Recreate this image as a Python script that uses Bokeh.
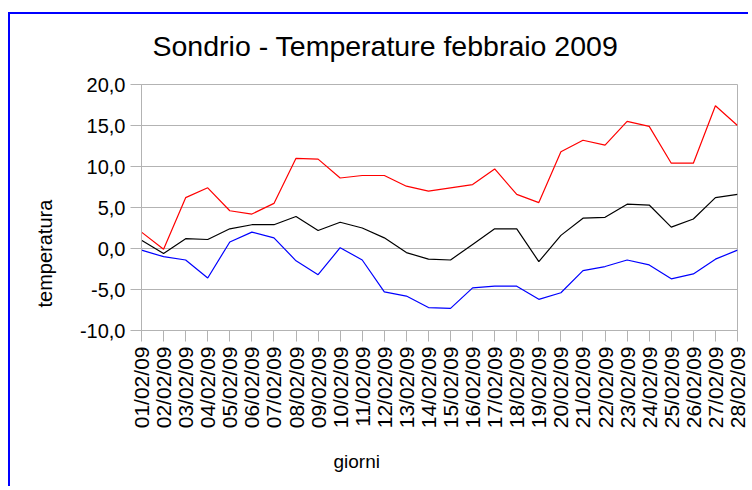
import math
from bokeh.plotting import figure
from bokeh.models import Range1d, FixedTicker, ColumnDataSource, Title
from bokeh.embed import file_html
from bokeh.resources import INLINE

days = ["01/02/09", "02/02/09", "03/02/09", "04/02/09", "05/02/09", "06/02/09", "07/02/09",
        "08/02/09", "09/02/09", "10/02/09", "11/02/09", "12/02/09", "13/02/09", "14/02/09",
        "15/02/09", "16/02/09", "17/02/09", "18/02/09", "19/02/09", "20/02/09", "21/02/09",
        "22/02/09", "23/02/09", "24/02/09", "25/02/09", "26/02/09", "27/02/09", "28/02/09"]
tmax = [2.0, -0.1, 6.2, 7.4, 4.6, 4.2, 5.5, 11.0, 10.9, 8.6, 8.9, 8.9, 7.6, 7.0,
        7.4, 7.8, 9.7, 6.6, 5.6, 11.8, 13.2, 12.6, 15.5, 14.9, 10.4, 10.4, 17.4, 15.0]
tmed = [1.0, -0.6, 1.2, 1.1, 2.4, 2.9, 2.9, 3.9, 2.2, 3.2, 2.5, 1.3, -0.5, -1.3,
        -1.4, 0.5, 2.4, 2.4, -1.6, 1.6, 3.7, 3.8, 5.4, 5.3, 2.6, 3.6, 6.2, 6.6]
tmin = [-0.2, -1.0, -1.4, -3.6, 0.8, 2.0, 1.3, -1.5, -3.2, 0.1, -1.4, -5.3, -5.8, -7.2,
        -7.3, -4.8, -4.6, -4.6, -6.2, -5.4, -2.7, -2.2, -1.4, -2.0, -3.7, -3.1, -1.3, -0.2]
yticks = [-10, -5, 0, 5, 10, 15, 20]
ytick_labels = ["-10,0", "-5,0", "0,0", "5,0", "10,0", "15,0", "20,0"]

xs = list(range(1, len(days) + 1))
src = ColumnDataSource(dict(x=xs, tmax=tmax, tmed=tmed, tmin=tmin))

FONT = "Liberation Sans"
GRAY = "#b3b3b3"

p = figure(width=740, height=474, output_backend="svg", toolbar_location=None,
           x_range=Range1d(1, len(days)), y_range=Range1d(-10, 20),
           min_border_left=131, min_border_right=13, min_border_top=69, min_border_bottom=156)
p.margin = (12, 0, 0, 8)
p.styles = {"border-left": "2px solid #0000ff", "border-top": "2px solid #0000ff"}

# spacer between the frame and the main title
p.add_layout(Title(text=" ", text_font=FONT, text_font_size="1px", standoff=7), "above")

p.title.text = "Sondrio - Temperature febbraio 2009"
p.title.text_font = FONT
p.title.text_font_size = "28.5px"
p.title.text_font_style = "normal"
p.title.text_color = "#000000"
p.title.align = "left"
p.title.offset = 11
p.title.standoff = 26

p.line("x", "tmax", source=src, line_color="#ff0000", line_width=1.2)
p.line("x", "tmed", source=src, line_color="#000000", line_width=1.2)
p.line("x", "tmin", source=src, line_color="#0000ff", line_width=1.2)

p.outline_line_color = GRAY
p.outline_line_width = 1
p.xgrid.grid_line_color = None
p.ygrid.grid_line_color = GRAY
p.ygrid.grid_line_width = 1

p.xaxis.ticker = FixedTicker(ticks=xs)
p.xaxis.major_label_overrides = {x: d for x, d in zip(xs, days)}
p.xaxis.major_label_orientation = math.pi / 2
p.yaxis.ticker = FixedTicker(ticks=yticks)
p.yaxis.major_label_overrides = {t: l for t, l in zip(yticks, ytick_labels)}
for ax in (p.xaxis[0], p.yaxis[0]):
    ax.axis_line_color = GRAY
    ax.major_tick_line_color = GRAY
    ax.major_tick_out = 11
    ax.major_tick_in = 0
    ax.minor_tick_line_color = None
    ax.major_label_text_font = FONT
    ax.major_label_text_color = "#000000"
    ax.major_label_standoff = 5
p.yaxis.major_label_text_font_size = "20px"
p.xaxis.major_label_text_font_size = "21px"
p.grid.ticker = FixedTicker(ticks=yticks)

p.add_layout(Title(text="giorni", text_font=FONT, text_font_size="19px",
                   text_font_style="normal", text_color="#000000",
                   align="left", offset=192, standoff=34), "below")
p.add_layout(Title(text="temperatura", text_font=FONT, text_font_size="20px",
                   text_font_style="normal", text_color="#000000",
                   align="left", offset=23, standoff=42), "left")

open("out.html", "w").write(file_html(p, INLINE))
